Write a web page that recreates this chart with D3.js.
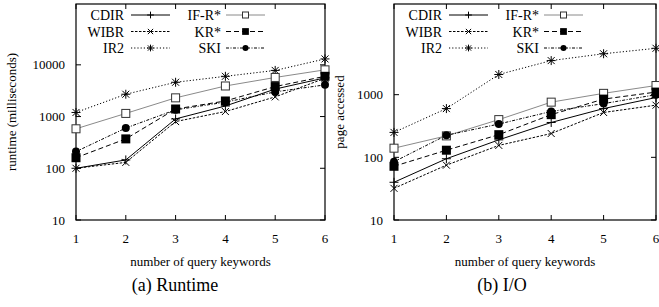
<!DOCTYPE html>
<html>
<head>
<meta charset="utf-8">
<script src="https://cdn.jsdelivr.net/npm/d3@7"></script>
<style>
  body { margin: 0; background: #fff; }
  text { font-family: "Liberation Serif", "Times New Roman", serif; fill: #000; }
</style>
</head>
<body>
<div id="chart"></div>
<script>
// data
var keywords = [1, 2, 3, 4, 5, 6];
var methods = ["CDIR", "WIBR", "IR2", "IF-R*", "KR*", "SKI"];

var runtimeCDIR = [100, 145, 900, 1600, 3400, 5600];
var runtimeWIBR = [100, 130, 800, 1250, 2400, 5500];
var runtimeIR2  = [1200, 2700, 4600, 6000, 7800, 13000];
var runtimeIFR  = [580, 1150, 2300, 3900, 5700, 8000];
var runtimeKR   = [160, 370, 1400, 2000, 3800, 6000];
var runtimeSKI  = [210, 600, 1350, 1900, 3000, 4100];

var ioCDIR = [40, 95, 190, 360, 600, 900];
var ioWIBR = [32, 75, 155, 240, 520, 680];
var ioIR2  = [250, 600, 2100, 3500, 4500, 5500];
var ioIFR  = [140, 220, 400, 760, 1050, 1400];
var ioKR   = [72, 130, 230, 480, 850, 1100];
var ioSKI  = [85, 225, 340, 540, 720, 1000];

var runtimeTicks = [10, 100, 1000, 10000];
var ioTicks = [10, 100, 1000];

var width = 659, height = 307;

var svg = d3.select("#chart").append("svg")
  .attr("width", width)
  .attr("height", height);

// line style per method
var styles = {
  "CDIR":  { dash: null,          color: "#000", marker: "plus" },
  "WIBR":  { dash: "2.5,1.5",     color: "#000", marker: "cross" },
  "IR2":   { dash: "1.2,2",       color: "#000", marker: "star" },
  "IF-R*": { dash: null,          color: "#8a8a8a", marker: "osquare" },
  "KR*":   { dash: "5,3",         color: "#000", marker: "fsquare" },
  "SKI":   { dash: "3,1.5,1,1.5", color: "#000", marker: "circle" }
};

function marker(g, type, x, y, k) {
  k = k || 1;
  var s = 4.5 * k;
  if (type == "plus" || type == "star") {
    g.append("path").attr("d", "M" + (x - s) + "," + y + "H" + (x + s) + "M" + x + "," + (y - s) + "V" + (y + s))
      .attr("stroke", "#000").attr("stroke-width", 1).attr("fill", "none");
  }
  if (type == "cross" || type == "star") {
    var c = 3.5 * k;
    g.append("path").attr("d", "M" + (x - c) + "," + (y - c) + "L" + (x + c) + "," + (y + c) + "M" + (x - c) + "," + (y + c) + "L" + (x + c) + "," + (y - c))
      .attr("stroke", "#000").attr("stroke-width", 1).attr("fill", "none");
  }
  if (type == "osquare") {
    var h = 4 * k;
    g.append("rect").attr("x", x - h).attr("y", y - h).attr("width", 2 * h).attr("height", 2 * h)
      .attr("fill", "#fff").attr("stroke", "#333").attr("stroke-width", 1);
  }
  if (type == "fsquare") {
    var f = 4.5 * k;
    g.append("rect").attr("x", x - f).attr("y", y - f).attr("width", 2 * f).attr("height", 2 * f)
      .attr("fill", "#000");
  }
  if (type == "circle") {
    g.append("circle").attr("cx", x).attr("cy", y).attr("r", 4 * k).attr("fill", "#000");
  }
}

function panel(opts) {
  var g = svg.append("g");
  var x = d3.scaleLinear().domain([1, 6]).range([opts.left, opts.right]);
  var y = d3.scaleLog().domain([10, opts.yMax]).range([220, 4]);

  // frame
  g.append("rect")
    .attr("x", opts.left).attr("y", 4)
    .attr("width", opts.right - opts.left).attr("height", 216)
    .attr("fill", "none").attr("stroke", "#000").attr("stroke-width", 1.2);

  // x ticks (inside, mirrored)
  keywords.forEach(function (k) {
    g.append("line").attr("x1", x(k)).attr("x2", x(k)).attr("y1", 220).attr("y2", 215)
      .attr("stroke", "#000");
    g.append("line").attr("x1", x(k)).attr("x2", x(k)).attr("y1", 4).attr("y2", 9)
      .attr("stroke", "#000");
    g.append("text").attr("x", x(k)).attr("y", 243)
      .attr("text-anchor", "middle").attr("font-size", 13).text(k);
  });

  // y ticks
  opts.ticks.forEach(function (t) {
    g.append("line").attr("x1", opts.left).attr("x2", opts.left + 5).attr("y1", y(t)).attr("y2", y(t))
      .attr("stroke", "#000");
    g.append("line").attr("x1", opts.right).attr("x2", opts.right - 5).attr("y1", y(t)).attr("y2", y(t))
      .attr("stroke", "#000");
    g.append("text").attr("x", opts.left - 11).attr("y", y(t) + 4.5)
      .attr("text-anchor", "end").attr("font-size", 13).text(t);
  });

  // titles
  g.append("text").attr("x", (opts.left + opts.right) / 2).attr("y", 266)
    .attr("text-anchor", "middle").attr("font-size", 13).text("number of query keywords");
  g.append("text")
    .attr("transform", "translate(" + opts.ylabelX + "," + 112 + ") rotate(-90)")
    .attr("text-anchor", "middle").attr("font-size", 13).text(opts.ylabel);
  g.append("text").attr("x", opts.captionX).attr("y", 291)
    .attr("text-anchor", "middle").attr("font-size", 18).text(opts.caption);

  var line = d3.line()
    .x(function (d, i) { return x(keywords[i]); })
    .y(function (d) { return y(d); });

  // series
  methods.forEach(function (m, i) {
    var st = styles[m];
    g.append("path").datum(opts.series[i])
      .attr("d", line)
      .attr("fill", "none")
      .attr("stroke", st.color)
      .attr("stroke-width", 1)
      .attr("stroke-dasharray", st.dash);
  });
  methods.forEach(function (m, i) {
    opts.series[i].forEach(function (v, j) {
      marker(g, styles[m].marker, x(keywords[j]), y(v));
    });
  });

  // legend
  methods.forEach(function (m, i) {
    var col = Math.floor(i / 3), row = i % 3;
    var ly = 15 + row * 16.5;
    var textEnd = opts.left + (col ? 145 : 48);
    var s0 = opts.left + (col ? 150 : 55);
    var s1 = opts.left + (col ? 189 : 94);
    var st = styles[m];
    g.append("text").attr("x", textEnd).attr("y", ly + 5)
      .attr("text-anchor", "end").attr("font-size", 14).text(m);
    g.append("line").attr("x1", s0).attr("x2", s1).attr("y1", ly).attr("y2", ly)
      .attr("stroke", st.color).attr("stroke-width", 1).attr("stroke-dasharray", st.dash);
    marker(g, st.marker, (s0 + s1) / 2, ly, 0.75);
  });
}

panel({
  left: 76, right: 325, yMax: 150000,
  ticks: runtimeTicks,
  ylabel: "runtime (milliseconds)", ylabelX: 16,
  caption: "(a) Runtime", captionX: 175,
  series: [runtimeCDIR, runtimeWIBR, runtimeIR2, runtimeIFR, runtimeKR, runtimeSKI]
});

panel({
  left: 394, right: 656, yMax: 28000,
  ticks: ioTicks,
  ylabel: "page accessed", ylabelX: 344,
  caption: "(b) I/O", captionX: 502,
  series: [ioCDIR, ioWIBR, ioIR2, ioIFR, ioKR, ioSKI]
});
</script>
</body>
</html>
